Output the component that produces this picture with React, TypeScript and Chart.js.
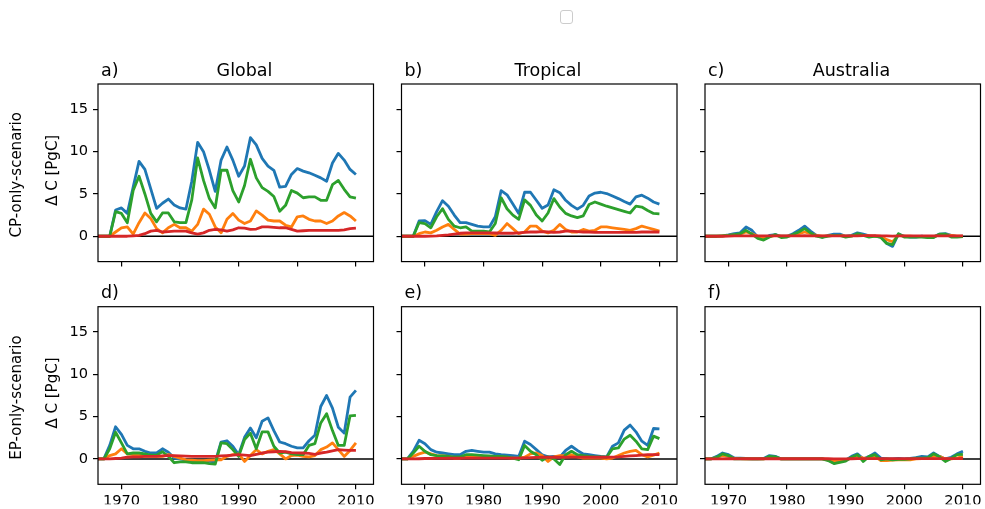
import React, { useEffect, useRef } from "react";
import { Chart, registerables } from "chart.js";

Chart.register(...registerables);

// ---------------------------------------------------------------------------
// Data: annual carbon uptake anomaly (PgC) per region and scenario
// ---------------------------------------------------------------------------
const years = [
  1966, 1967, 1968, 1969, 1970, 1971, 1972, 1973, 1974, 1975, 1976, 1977, 1978, 1979, 1980,
  1981, 1982, 1983, 1984, 1985, 1986, 1987, 1988, 1989, 1990, 1991, 1992, 1993, 1994, 1995,
  1996, 1997, 1998, 1999, 2000, 2001, 2002, 2003, 2004, 2005, 2006, 2007, 2008, 2009, 2010,
];

const xTickValues = [1970, 1980, 1990, 2000, 2010];
const yTickValues = [0, 5, 10, 15];

// CP-only scenario
const globalCpBlue = [0, 0, 0, 3.1, 3.35, 2.7, 5.8, 8.85, 7.9, 5.6, 3.3, 3.9, 4.4, 3.7, 3.35, 3.2, 6.5, 11.1, 10.0, 7.8, 5.3, 9.0, 10.55, 9.0, 7.1, 8.3, 11.65, 10.8, 9.2, 8.3, 7.8, 5.8, 5.9, 7.3, 8.0, 7.7, 7.5, 7.2, 6.9, 6.5, 8.66, 9.8, 9.0, 7.9, 7.3];
const globalCpOrange = [0, 0, 0, 0.5, 1.0, 1.1, 0.25, 1.6, 2.75, 2.1, 0.9, 0.4, 1.0, 1.4, 1.0, 1.0, 0.6, 1.4, 3.2, 2.6, 1.1, 0.4, 2.0, 2.7, 1.9, 1.5, 1.8, 3.0, 2.5, 1.9, 1.8, 1.8, 1.3, 1.1, 2.3, 2.4, 2.0, 1.8, 1.8, 1.5, 1.8, 2.4, 2.8, 2.4, 1.8];
const globalCpGreen = [0, 0, 0, 2.9, 2.7, 1.6, 5.4, 7.1, 5.0, 2.7, 1.7, 2.75, 2.75, 1.7, 1.6, 1.6, 4.3, 9.25, 6.6, 4.45, 3.35, 7.8, 7.8, 5.4, 4.05, 6.0, 9.1, 6.9, 5.75, 5.3, 4.7, 2.95, 3.65, 5.4, 5.1, 4.55, 4.65, 4.65, 4.25, 4.25, 6.1, 6.6, 5.55, 4.65, 4.5];
const globalCpRed = [0, 0, 0, 0, 0, 0, 0.05, 0.1, 0.3, 0.6, 0.7, 0.5, 0.55, 0.6, 0.6, 0.6, 0.4, 0.25, 0.4, 0.7, 0.8, 0.75, 0.6, 0.75, 1.0, 0.95, 0.8, 0.85, 1.1, 1.1, 1.05, 1.0, 1.0, 0.8, 0.6, 0.65, 0.7, 0.7, 0.7, 0.7, 0.7, 0.7, 0.75, 0.9, 0.95];

const tropicalCpBlue = [0, 0, 0, 1.8, 1.85, 1.4, 2.9, 4.2, 3.55, 2.5, 1.6, 1.6, 1.4, 1.2, 1.1, 1.1, 2.3, 5.4, 4.9, 3.8, 2.7, 5.2, 5.2, 4.25, 3.3, 3.7, 5.5, 5.15, 4.25, 3.65, 3.2, 3.65, 4.75, 5.1, 5.2, 5.05, 4.75, 4.45, 4.1, 3.8, 4.65, 4.85, 4.5, 4.05, 3.8];
const tropicalCpOrange = [0, 0, 0, 0.3, 0.5, 0.4, 0.7, 1.1, 1.4, 0.8, 0.25, 0.25, 0.3, 0.3, 0.3, 0.3, 0.1, 0.7, 1.5, 0.9, 0.3, 0.5, 1.2, 1.2, 0.6, 0.4, 0.7, 1.4, 0.8, 0.5, 0.5, 0.8, 0.6, 0.7, 1.1, 1.1, 1.0, 0.9, 0.8, 0.7, 0.9, 1.2, 1.0, 0.8, 0.6];
const tropicalCpGreen = [0, 0, 0, 1.6, 1.5, 1.0, 2.3, 3.25, 2.0, 1.2, 1.0, 1.1, 0.6, 0.6, 0.6, 0.5, 1.5, 4.55, 3.25, 2.5, 2.0, 4.3, 3.65, 2.5, 1.8, 2.75, 4.45, 3.45, 2.7, 2.4, 2.2, 2.4, 3.75, 4.05, 3.8, 3.55, 3.35, 3.15, 2.95, 2.75, 3.55, 3.45, 3.05, 2.7, 2.65];
const tropicalCpRed = [0, 0, 0, 0, 0, 0.02, 0.05, 0.1, 0.15, 0.25, 0.35, 0.4, 0.4, 0.4, 0.4, 0.4, 0.38, 0.35, 0.35, 0.35, 0.4, 0.45, 0.5, 0.5, 0.55, 0.5, 0.45, 0.5, 0.6, 0.6, 0.55, 0.5, 0.5, 0.45, 0.45, 0.45, 0.45, 0.45, 0.45, 0.45, 0.45, 0.5, 0.5, 0.5, 0.5];

const australiaCpBlue = [0, 0, 0, 0.05, 0.15, 0.3, 0.4, 1.1, 0.7, -0.1, -0.3, 0.1, 0.2, 0, 0, 0.3, 0.7, 1.2, 0.6, 0.1, -0.1, 0.1, 0.25, 0.25, 0, 0.1, 0.4, 0.25, 0.05, 0, -0.1, -0.85, -1.2, 0.25, 0, -0.1, -0.1, 0, -0.1, -0.1, 0.25, 0.3, 0.1, -0.05, 0];
const australiaCpOrange = [0, 0, 0, 0.05, 0.1, 0.15, 0.25, 0.5, 0.3, 0, -0.2, -0.05, 0.1, 0, 0, 0.1, 0.3, 0.5, 0.3, 0.1, 0, 0.05, 0.1, 0.1, 0, 0.05, 0.15, 0.1, 0.05, 0, 0, -0.4, -0.65, 0.1, 0, 0, -0.05, -0.05, -0.05, -0.05, 0.15, 0.15, 0.1, 0, 0];
const australiaCpGreen = [0, 0, 0, 0.05, 0.1, 0.2, 0.3, 0.7, 0.25, -0.25, -0.45, -0.1, 0.2, -0.15, -0.1, 0.2, 0.5, 0.9, 0.4, 0, -0.15, 0, 0.1, 0.1, -0.1, 0, 0.3, 0.1, -0.1, 0, -0.15, -0.85, -1.0, 0.3, -0.1, -0.1, -0.1, -0.1, -0.15, -0.15, 0.25, 0.25, -0.1, -0.1, -0.05];
const australiaCpRed = [0, 0, 0, 0, 0.02, 0.03, 0.04, 0.05, 0.05, 0.04, 0.03, 0.03, 0.04, 0.04, 0.04, 0.04, 0.05, 0.06, 0.05, 0.05, 0.04, 0.04, 0.05, 0.05, 0.05, 0.05, 0.05, 0.06, 0.06, 0.06, 0.05, 0.03, 0.02, 0.04, 0.04, 0.04, 0.04, 0.04, 0.04, 0.04, 0.05, 0.05, 0.05, 0.05, 0.05];

// EP-only scenario
const globalEpBlue = [0, 0, 1.6, 3.8, 2.9, 1.6, 1.2, 1.2, 0.9, 0.7, 0.7, 1.2, 0.8, 0.1, 0, -0.15, -0.3, -0.3, -0.3, -0.3, -0.35, 2.0, 2.15, 1.5, 0.5, 2.55, 3.65, 2.5, 4.45, 4.85, 3.35, 2.0, 1.8, 1.5, 1.3, 1.3, 2.15, 2.8, 6.2, 7.5, 6.0, 3.75, 3.05, 7.3, 8.1];
const globalEpOrange = [0, 0, 0.4, 0.6, 1.2, 0.6, 0.5, 0.5, 0.3, 0.3, 0.3, 0.3, 0.5, 0.3, 0.1, -0.1, -0.15, -0.2, -0.2, -0.15, -0.1, -0.1, 0.3, 0.5, 0.6, -0.3, 0.4, 1.1, 0.6, 0.9, 1.1, 0.6, 0, 0.4, 0.45, 0.3, 0.25, 0.4, 1.1, 1.4, 1.9, 1.1, 0.3, 1.0, 1.9];
const globalEpGreen = [0, 0, 1.2, 3.15, 1.9, 0.6, 0.7, 0.7, 0.6, 0.45, 0.45, 0.85, 0.3, -0.45, -0.35, -0.35, -0.45, -0.45, -0.45, -0.55, -0.6, 1.9, 1.8, 1.1, 0.3, 2.3, 3.05, 1.2, 3.2, 3.2, 1.5, 0.7, 0.8, 0.6, 0.5, 0.5, 1.6, 1.8, 4.25, 5.35, 3.35, 1.6, 1.6, 5.1, 5.15];
const globalEpRed = [0, 0, 0, 0.05, 0.1, 0.2, 0.25, 0.25, 0.3, 0.3, 0.3, 0.35, 0.4, 0.38, 0.35, 0.32, 0.3, 0.3, 0.3, 0.3, 0.3, 0.35, 0.4, 0.45, 0.5, 0.45, 0.4, 0.55, 0.7, 0.8, 0.85, 0.9, 0.85, 0.75, 0.72, 0.7, 0.65, 0.55, 0.7, 0.8, 0.95, 1.1, 1.05, 1.0, 1.0];

const tropicalEpBlue = [0, 0, 0.9, 2.2, 1.8, 1.1, 0.8, 0.7, 0.6, 0.5, 0.5, 0.9, 1.0, 0.9, 0.8, 0.8, 0.6, 0.5, 0.45, 0.4, 0.3, 2.1, 1.7, 1.1, 0.5, 0.25, 0.3, 0.2, 1.0, 1.5, 1.0, 0.6, 0.5, 0.4, 0.3, 0.25, 1.5, 1.9, 3.4, 4.0, 3.2, 2.1, 1.6, 3.6, 3.55];
const tropicalEpOrange = [0, 0, 0.3, 0.6, 0.8, 0.6, 0.4, 0.35, 0.3, 0.1, 0.1, 0.4, 0.4, 0.35, 0.3, 0.3, 0.25, 0.2, 0.15, 0.1, 0.1, 0.2, 0.6, 0.7, 0.4, -0.3, 0.25, 0.4, 0.4, 0.5, 0.25, 0.1, 0.1, 0.1, 0.1, 0, 0.1, 0.4, 0.7, 0.9, 1.0, 0.5, 0.25, 0.45, 0.7];
const tropicalEpGreen = [0, 0, 0.7, 1.5, 0.9, 0.5, 0.4, 0.35, 0.3, 0.25, 0.25, 0.5, 0.5, 0.45, 0.4, 0.35, 0.3, 0.3, 0.25, 0.1, -0.1, 1.6, 0.9, 0.5, -0.15, 0.25, 0, -0.65, 0.5, 0.9, 0.5, 0.4, 0.3, 0.25, 0.25, 0.2, 1.2, 1.3, 2.35, 2.8, 2.1, 1.2, 1.1, 2.7, 2.4];
const tropicalEpRed = [0, 0, 0, 0.02, 0.05, 0.05, 0.06, 0.07, 0.08, 0.08, 0.08, 0.1, 0.1, 0.1, 0.1, 0.1, 0.1, 0.1, 0.1, 0.1, 0.1, 0.12, 0.15, 0.18, 0.2, 0.2, 0.2, 0.2, 0.2, 0.22, 0.22, 0.2, 0.2, 0.2, 0.2, 0.2, 0.22, 0.25, 0.3, 0.35, 0.4, 0.45, 0.5, 0.5, 0.5];

const australiaEpBlue = [0, 0, 0.3, 0.7, 0.5, 0.1, 0.1, 0.05, 0, 0, 0.05, 0.4, 0.3, 0, 0, 0, 0, 0, 0, 0, 0, -0.1, -0.5, -0.3, -0.15, 0.3, 0.6, 0, 0.3, 0.7, 0.1, 0, 0, 0.05, 0, 0.05, 0.15, 0.3, 0.25, 0.7, 0.3, 0, 0.2, 0.6, 0.9];
const australiaEpOrange = [0, 0, 0.15, 0.4, 0.3, 0.05, 0.05, 0, 0, 0, 0, 0.15, 0.1, 0, 0, 0, 0, 0, 0, 0, 0, -0.05, -0.2, -0.15, -0.1, 0.1, 0.3, 0.1, 0.1, 0.3, -0.2, -0.2, -0.15, -0.1, -0.1, -0.1, 0, 0.05, 0.1, 0.3, 0.3, 0, 0, 0.1, 0.3];
const australiaEpGreen = [0, 0, 0.2, 0.6, 0.4, 0, 0.05, 0, 0, 0, 0, 0.3, 0.25, 0, 0, 0, 0, 0, 0, 0, 0, -0.2, -0.55, -0.4, -0.25, 0.2, 0.5, -0.3, 0.3, 0.5, -0.1, 0, -0.1, -0.05, -0.05, 0, 0.1, 0.1, 0.15, 0.6, 0.25, -0.3, 0.05, 0.5, 0.55];
const australiaEpRed = [0, 0, 0, 0.01, 0.02, 0.02, 0.02, 0.02, 0.02, 0.02, 0.02, 0.02, 0.02, 0.02, 0.02, 0.02, 0.02, 0.02, 0.02, 0.02, 0.02, 0.02, 0.01, 0.01, 0.01, 0.02, 0.03, 0.03, 0.03, 0.03, 0.03, 0.03, 0.03, 0.03, 0.03, 0.03, 0.03, 0.03, 0.04, 0.04, 0.04, 0.04, 0.04, 0.04, 0.05];

const regionTitles = ["Global", "Tropical", "Australia"];
const panelLetters = ["a)", "b)", "c)", "d)", "e)", "f)"];
const scenarioLabels = ["CP-only-scenario", "EP-only-scenario"];
const yAxisLabel = "\u0394 C [PgC]";

// Matplotlib "tab10" colour cycle
const seriesColors = ["#1f77b4", "#ff7f0e", "#2ca02c", "#d62728"];

const panelSeries = [
  [globalCpBlue, globalCpOrange, globalCpGreen, globalCpRed],
  [tropicalCpBlue, tropicalCpOrange, tropicalCpGreen, tropicalCpRed],
  [australiaCpBlue, australiaCpOrange, australiaCpGreen, australiaCpRed],
  [globalEpBlue, globalEpOrange, globalEpGreen, globalEpRed],
  [tropicalEpBlue, tropicalEpOrange, tropicalEpGreen, tropicalEpRed],
  [australiaEpBlue, australiaEpOrange, australiaEpGreen, australiaEpRed],
];

// ---------------------------------------------------------------------------
// Layout (page pixels)
// ---------------------------------------------------------------------------
const PAGE_W = 985;
const PAGE_H = 509;
const PLOT_LEFT = [98, 401.5, 705];
const PLOT_W = 275.5;
const PLOT_TOP = [84, 306.7];
const PLOT_H = 177.6;
const Y_AXIS_W = 50;
const X_AXIS_H = 20;
const X_MIN = 1966;
const X_MAX = 2013;
const Y_MIN = -3;
const Y_MAX = 18;

const FONT = "'DejaVu Sans', 'Liberation Sans', sans-serif";
const TICK_FONT_SIZE = 14.6;
const LABEL_FONT_SIZE = 15;
const TITLE_FONT_SIZE = 17.5;

function makePanelPlugin(index: number) {
  const col = index % 3;
  const row = Math.floor(index / 3);
  return {
    id: "panelDecor" + index,
    afterDatasetsDraw(chart: any) {
      const { ctx, chartArea } = chart;
      ctx.save();
      // axes frame
      ctx.strokeStyle = "#000";
      ctx.lineWidth = 1.2;
      ctx.strokeRect(
        chartArea.left,
        chartArea.top,
        chartArea.right - chartArea.left,
        chartArea.bottom - chartArea.top
      );

      ctx.fillStyle = "#000";
      // panel letter and region title
      ctx.font = `${TITLE_FONT_SIZE}px ${FONT}`;
      ctx.textBaseline = "alphabetic";
      const baseY = chartArea.top - 8.3;
      ctx.textAlign = "left";
      ctx.fillText(panelLetters[index], chartArea.left + 3, baseY);
      if (row === 0) {
        ctx.textAlign = "center";
        ctx.fillText(regionTitles[col], chartArea.left + 146.5, baseY);
      }

      // row labels on the left column
      if (col === 0) {
        const midY = (chartArea.top + chartArea.bottom) / 2;
        ctx.font = `${LABEL_FONT_SIZE}px ${FONT}`;
        ctx.textAlign = "center";
        ctx.textBaseline = "middle";
        ctx.save();
        ctx.translate(53, midY - 2.5);
        ctx.rotate(-Math.PI / 2);
        ctx.fillText(yAxisLabel, 0, 0);
        ctx.restore();
        ctx.save();
        ctx.translate(17.5, midY + 2);
        ctx.rotate(-Math.PI / 2);
        ctx.fillText(scenarioLabels[row], 0, 0);
        ctx.restore();
      }

      // empty figure legend frame
      if (index === 0) {
        ctx.strokeStyle = "rgba(204,204,204,1)";
        ctx.fillStyle = "rgba(255,255,255,0.8)";
        ctx.lineWidth = 1;
        ctx.beginPath();
        ctx.roundRect(560.5, 10.5, 12, 13, 2.5);
        ctx.fill();
        ctx.stroke();
      }
      ctx.restore();
    },
  };
}

function buildConfig(index: number) {
  const col = index % 3;
  const row = Math.floor(index / 3);
  const left = PLOT_LEFT[col];
  const top = PLOT_TOP[row];
  const series = panelSeries[index];

  const toPoints = (vals: number[]) => years.map((yr, i) => ({ x: yr, y: vals[i] }));

  const datasets: any[] = series.map((vals, k) => ({
    data: toPoints(vals),
    borderColor: seriesColors[k],
    backgroundColor: seriesColors[k],
    borderWidth: 2.8,
    pointRadius: 0,
    tension: 0,
    fill: false,
    clip: 0,
    // later series sit on top (lower order draws last)
    order: 4 - k,
  }));
  datasets.push({
    data: [
      { x: X_MIN, y: 0 },
      { x: X_MAX, y: 0 },
    ],
    borderColor: "#000",
    borderWidth: 1.5,
    pointRadius: 0,
    fill: false,
    clip: 0,
    order: 10,
  });

  const gridOpts = {
    display: true,
    drawOnChartArea: false,
    drawTicks: true,
    tickLength: 5,
    tickColor: "#000",
    tickWidth: 1.2,
    color: "#000",
    lineWidth: 1.2,
  };

  return {
    type: "line",
    data: { datasets },
    options: {
      responsive: false,
      maintainAspectRatio: false,
      animation: false,
      devicePixelRatio: 1,
      events: [],
      layout: {
        padding: {
          left: left - Y_AXIS_W,
          top: top,
          right: PAGE_W - (left + PLOT_W),
          bottom: PAGE_H - (top + PLOT_H) - X_AXIS_H,
        },
      },
      plugins: {
        legend: { display: false },
        tooltip: { enabled: false },
        title: { display: false },
      },
      elements: {
        point: { radius: 0 },
        line: { borderJoinStyle: "round", borderCapStyle: "butt" },
      },
      scales: {
        x: {
          type: "linear",
          min: X_MIN,
          max: X_MAX,
          afterFit: (s: any) => {
            s.height = X_AXIS_H;
          },
          afterBuildTicks: (s: any) => {
            s.ticks = xTickValues.map((v) => ({ value: v }));
          },
          ticks: {
            display: row === 1,
            autoSkip: false,
            maxRotation: 0,
            padding: 3,
            color: "#000",
            font: { family: FONT, size: TICK_FONT_SIZE },
            callback: (v: any) => String(v),
          },
          grid: gridOpts,
          border: { display: false },
        },
        y: {
          type: "linear",
          min: Y_MIN,
          max: Y_MAX,
          afterFit: (s: any) => {
            s.width = Y_AXIS_W;
          },
          afterBuildTicks: (s: any) => {
            s.ticks = yTickValues.map((v) => ({ value: v }));
          },
          ticks: {
            display: col === 0,
            autoSkip: false,
            padding: 5,
            color: "#000",
            font: { family: FONT, size: TICK_FONT_SIZE },
            callback: (v: any) => String(v),
          },
          grid: gridOpts,
          border: { display: false },
        },
      },
    },
    plugins: [makePanelPlugin(index)],
  };
}

function Panel({ index }: { index: number }) {
  const ref = useRef<HTMLCanvasElement | null>(null);
  useEffect(() => {
    if (!ref.current) return;
    const chart = new Chart(ref.current, buildConfig(index) as any);
    return () => chart.destroy();
  }, [index]);
  return (
    <canvas
      ref={ref}
      width={PAGE_W}
      height={PAGE_H}
      style={{ position: "absolute", left: 0, top: 0, width: PAGE_W, height: PAGE_H }}
    />
  );
}

export default function App() {
  return (
    <div
      style={{
        position: "fixed",
        left: 0,
        top: 0,
        width: PAGE_W,
        height: PAGE_H,
        background: "#fff",
      }}
    >
      {panelSeries.map((_, i) => (
        <Panel key={i} index={i} />
      ))}
    </div>
  );
}
